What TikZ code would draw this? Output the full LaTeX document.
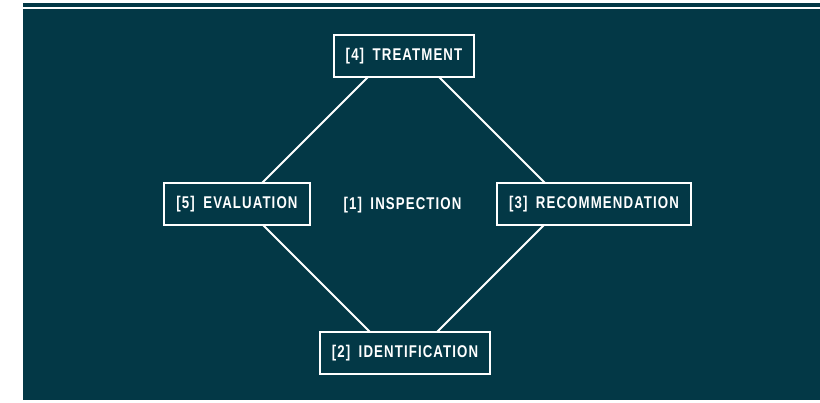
\documentclass[tikz,border=0pt]{standalone}
\usepackage{fontspec}
\newfontfamily\labfont{Liberation Sans}[FakeStretch=0.78,LetterSpace=6.5]
\usepackage{tikz}
\usetikzlibrary{calc}
\definecolor{deepteal}{RGB}{3,56,70}

\begin{document}
\begin{tikzpicture}
[x=1pt,y=1pt,stage/.style={draw=white,fill=deepteal,line width=2pt,inner xsep=12pt,minimum height=42pt,text=white,font=\labfont\bfseries\fontsize{17}{20}\selectfont},
plain/.style={text=white,font=\labfont\bfseries\fontsize{17}{20}\selectfont},]

%Half diagonal of the diamond
\def\d{162}

%Background
\useasboundingbox (0,0) rectangle (820,402);
\fill[deepteal] (23,2) rectangle (820,392.5);
\fill[deepteal] (23,395) rectangle (820,399);

%Corners of the diamond
\coordinate (O) at (403.5,198.5);
\coordinate (T) at ($(O)+(0,\d)$);
\coordinate (L) at ($(O)+(-\d,0)$);
\coordinate (B) at ($(O)+(0,-\d)$);
\coordinate (R) at ($(O)+(\d,0)$);

%Drawing the diamond
\draw[white,line width=1.8pt] (T) -- (L) -- (B) -- (R) -- cycle;

%Labeling stages
\node (treat) at (404,345.5)[stage] {[4]\enspace TREATMENT};
\node (eval) at (237,198)[stage] {[5]\enspace EVALUATION};
\node (recom) at (594,198)[stage] {[3]\enspace RECOMMENDATION};
\node (ident) at (405,48.5)[stage] {[2]\enspace IDENTIFICATION};
\node (insp) at (402.5,197)[plain] {[1]\enspace INSPECTION};

\end{tikzpicture}
\end{document}
